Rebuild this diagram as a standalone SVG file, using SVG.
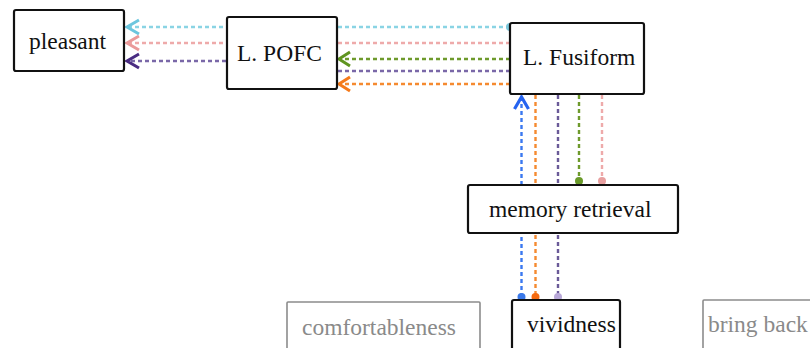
<svg xmlns="http://www.w3.org/2000/svg" width="810" height="348" viewBox="0 0 810 348">
<style>
.box{fill:#fff;stroke:#111;stroke-width:2.2}
.gbox{fill:#fff;stroke:#8c8c8c;stroke-width:1.6}
.t{font-family:"Liberation Serif","Times New Roman",serif;font-size:23.5px;fill:#111}
.gt{font-family:"Liberation Serif","Times New Roman",serif;font-size:23.5px;fill:#8a8a8a}
.c{fill:none;stroke-width:2.4;stroke-dasharray:4 3}
</style>
<defs>
<marker id="a-cyan" markerUnits="userSpaceOnUse" viewBox="-15 -10 18 20" markerWidth="18" markerHeight="20" refX="0" refY="0" orient="auto" overflow="visible"><path d="M-12,-7 L0,0 L-12,7" fill="none" stroke="#6cc6de" stroke-width="3"/></marker>
<marker id="a-pink" markerUnits="userSpaceOnUse" viewBox="-15 -10 18 20" markerWidth="18" markerHeight="20" refX="0" refY="0" orient="auto" overflow="visible"><path d="M-12,-7 L0,0 L-12,7" fill="none" stroke="#ea9a9a" stroke-width="3"/></marker>
<marker id="a-purple" markerUnits="userSpaceOnUse" viewBox="-15 -10 18 20" markerWidth="18" markerHeight="20" refX="0" refY="0" orient="auto" overflow="visible"><path d="M-12,-7 L0,0 L-12,7" fill="none" stroke="#4a2c82" stroke-width="3"/></marker>
<marker id="a-green" markerUnits="userSpaceOnUse" viewBox="-15 -10 18 20" markerWidth="18" markerHeight="20" refX="0" refY="0" orient="auto" overflow="visible"><path d="M-11,-7 L0,0 L-11,7" fill="none" stroke="#5f9420" stroke-width="3"/></marker>
<marker id="a-orange" markerUnits="userSpaceOnUse" viewBox="-15 -10 18 20" markerWidth="18" markerHeight="20" refX="0" refY="0" orient="auto" overflow="visible"><path d="M-11,-7 L0,0 L-11,7" fill="none" stroke="#f57a1a" stroke-width="3"/></marker>
<marker id="a-blue" markerUnits="userSpaceOnUse" viewBox="-15 -10 18 20" markerWidth="18" markerHeight="20" refX="0" refY="0" orient="auto" overflow="visible"><path d="M-12,-7 L0,0 L-12,7" fill="none" stroke="#2563f0" stroke-width="3.2"/></marker>
<marker id="d-cyan" markerUnits="userSpaceOnUse" viewBox="-5 -5 10 10" markerWidth="10" markerHeight="10" refX="0" refY="0" overflow="visible"><circle r="4" fill="#7cc8dc"/></marker>
<marker id="d-green" markerUnits="userSpaceOnUse" viewBox="-5 -5 10 10" markerWidth="10" markerHeight="10" refX="0" refY="0" overflow="visible"><circle r="4" fill="#6a9a2a"/></marker>
<marker id="d-pink" markerUnits="userSpaceOnUse" viewBox="-5 -5 10 10" markerWidth="10" markerHeight="10" refX="0" refY="0" overflow="visible"><circle r="4" fill="#e8a0a0"/></marker>
<marker id="d-blue" markerUnits="userSpaceOnUse" viewBox="-5 -5 10 10" markerWidth="10" markerHeight="10" refX="0" refY="0" overflow="visible"><circle r="4" fill="#3a78e8"/></marker>
<marker id="d-orange" markerUnits="userSpaceOnUse" viewBox="-5 -5 10 10" markerWidth="10" markerHeight="10" refX="0" refY="0" overflow="visible"><circle r="4" fill="#f56a10"/></marker>
<marker id="d-purple" markerUnits="userSpaceOnUse" viewBox="-5 -5 10 10" markerWidth="10" markerHeight="10" refX="0" refY="0" overflow="visible"><circle r="4" fill="#b8a8d8"/></marker>
</defs>
<g id="connectors">
<path class="c" d="M510,27 L127,27" stroke="#8ad4e4" marker-start="url(#d-cyan)" marker-end="url(#a-cyan)"/>
<path class="c" d="M510,43 L127,43" stroke="#eeaaaa" marker-end="url(#a-pink)"/>
<path class="c" d="M510,71 L282,71 L282,61 L127,61" stroke="#7a68a8" marker-end="url(#a-purple)"/>
<path class="c" d="M510,59 L339,59" stroke="#6e9a2c" marker-end="url(#a-green)"/>
<path class="c" d="M510,84 L339,84" stroke="#f58a30" marker-end="url(#a-orange)"/>
<path class="c" d="M521.5,297 L521.5,97" stroke="#3a78f0" marker-start="url(#d-blue)" marker-end="url(#a-blue)"/>
<path class="c" d="M535.5,95 L535.5,297" stroke="#f58a30" marker-end="url(#d-orange)"/>
<path class="c" d="M558,95 L558,297" stroke="#6a5a98" marker-end="url(#d-purple)"/>
<path class="c" d="M579,95 L579,181" stroke="#6e9a2c" marker-end="url(#d-green)"/>
<path class="c" d="M602,95 L602,181" stroke="#eeaaaa" marker-end="url(#d-pink)"/>
</g>
<g id="node-pleasant">
<rect class="box" x="14" y="10" width="110" height="61" rx="2"/>
<text class="t" x="29" y="49">pleasant</text>
</g>
<g id="node-pofc">
<rect class="box" x="227" y="17" width="110" height="72" rx="2"/>
<text class="t" x="237" y="61">L. POFC</text>
</g>
<g id="node-fusiform">
<rect class="box" x="510" y="23" width="134" height="71" rx="2"/>
<text class="t" x="523" y="65">L. Fusiform</text>
</g>
<g id="node-memory">
<rect class="box" x="468" y="185" width="210" height="48" rx="2"/>
<text class="t" x="489" y="217">memory retrieval</text>
</g>
<g id="node-comfortableness">
<rect class="gbox" x="287" y="302" width="193" height="60" rx="1"/>
<text class="gt" x="302" y="335">comfortableness</text>
</g>
<g id="node-vividness">
<rect class="box" x="512" y="300" width="108" height="60" rx="2"/>
<text class="t" x="527" y="332">vividness</text>
</g>
<g id="node-bringback">
<rect class="gbox" x="703" y="300" width="120" height="60" rx="1"/>
<text class="gt" x="708" y="332">bring back</text>
</g>
</svg>
